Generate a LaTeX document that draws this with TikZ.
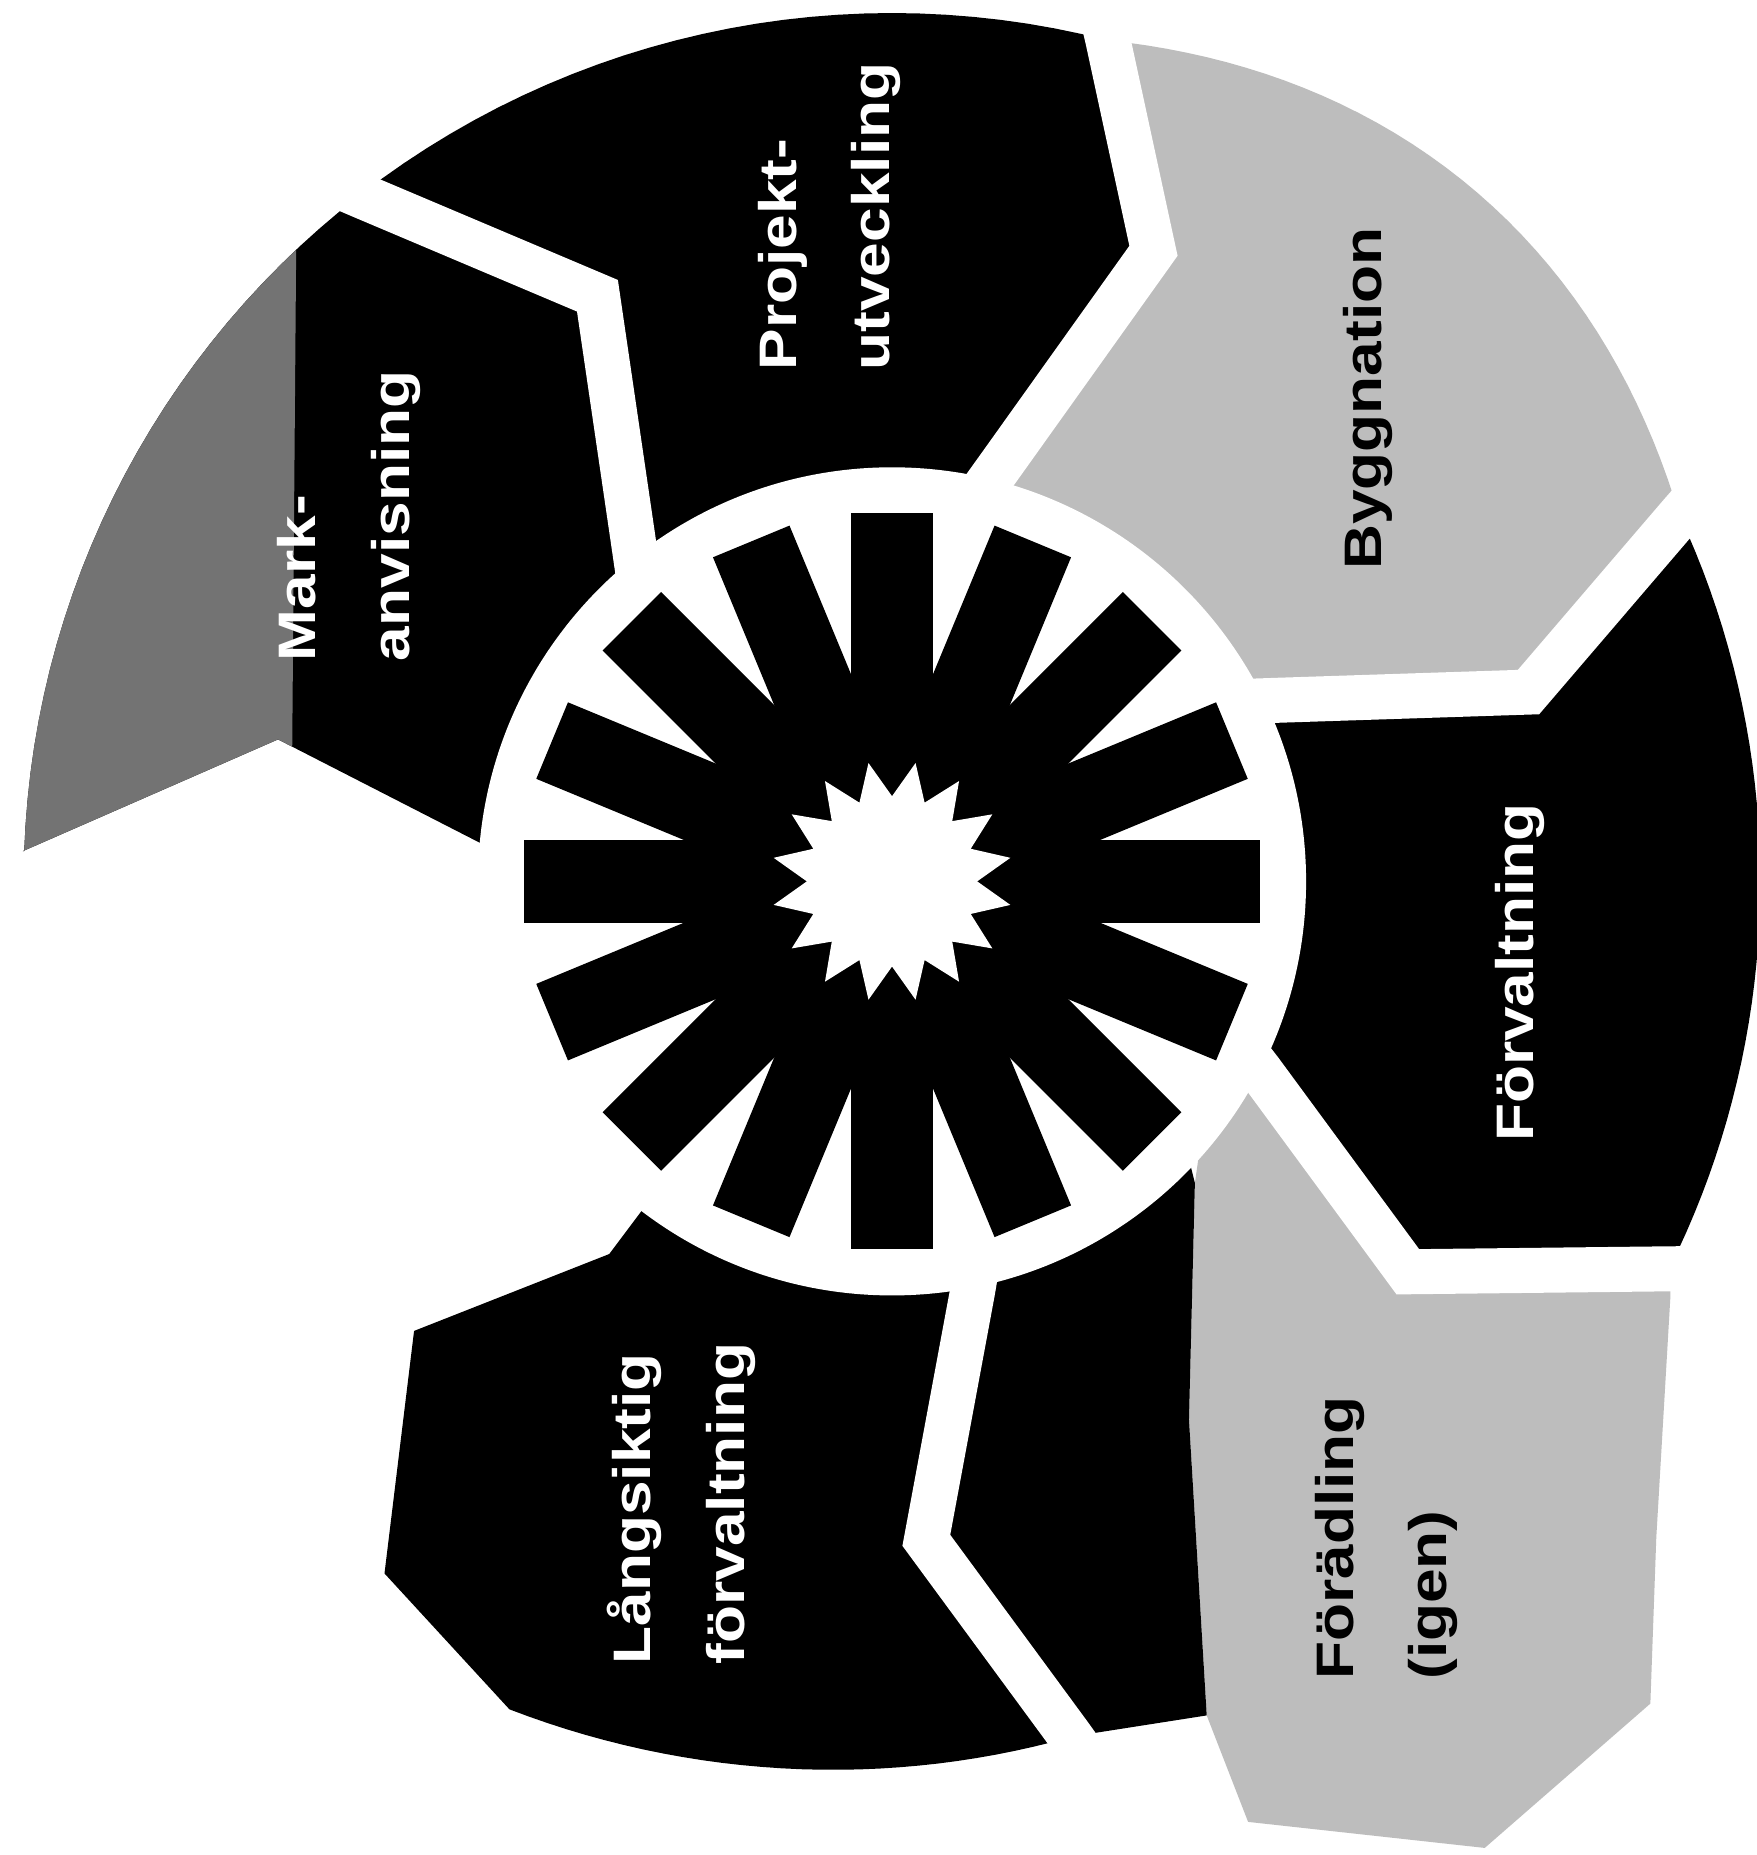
\documentclass[tikz,border=0pt]{standalone}
\usepackage{fontspec}
\setmainfont{Liberation Sans}
\newfontfamily\labfont{Liberation Sans}[FakeStretch=1.18]
\definecolor{gL}{gray}{0.74}
\definecolor{gD}{gray}{0.45}
\begin{document}
\begin{tikzpicture}[x=0.011832cm,y=-0.011832cm,
  sep/.style={white,line width=0.45cm,line join=miter,line cap=butt},
  labw/.style={rotate=90,align=left,inner sep=0pt,text=white,font=\labfont\bfseries\fontsize{15}{26.5}\selectfont},
  labb/.style={labw,text=black}]
\fill[white] (0,0) rectangle (1485,1568);
\useasboundingbox (0,0) rectangle (1485,1568);
% separator coordinates
\coordinate (b1x) at (253,143);   \coordinate (b1o) at (304.1,165.0);
\coordinate (b1t) at (505,250);   \coordinate (b1i) at (535,455);  \coordinate (b1j) at (544,517);
\coordinate (b2x) at (926.6,-9);  \coordinate (b2o) at (936.5,34.0);
\coordinate (b2t) at (975,212);   \coordinate (b2i) at (848,390);  \coordinate (b2j) at (800,457);
\coordinate (b3x) at (1459,391);  \coordinate (b3o) at (1419.7,436.0);
\coordinate (b3t) at (1292,585);  \coordinate (b3i) at (1078,592); \coordinate (b3j) at (1020,594);
\coordinate (b4x) at (1470,1072); \coordinate (b4o) at (1410.9,1072.5);
\coordinate (b4t) at (1190,1075); \coordinate (b4i) at (1065,905); \coordinate (b4j) at (1030,860);
\coordinate (b5j) at (830,1045);  \coordinate (b5i) at (822,1092);
\coordinate (b5t) at (783,1302);  \coordinate (b5o) at (905,1468); \coordinate (b5x) at (935,1510);
% Markanvisning
\fill[black] (19.4,719.4) -- plot[domain=178:127.8,samples=30] ({754+734*cos(\x)},{745-734*sin(\x)})
  -- (b1t) -- (b1i) -- (560,560) -- (440,730) -- (235,625) -- cycle;
\begin{scope}
\clip (0,0) -- (252,0) -- (246,760) -- (0,760) -- cycle;
\fill[gD] (19.4,719.4) -- plot[domain=178:127.8,samples=30] ({754+734*cos(\x)},{745-734*sin(\x)})
  -- (b1t) -- (b1i) -- (560,560) -- (440,730) -- (235,625) -- cycle;
\end{scope}
% Projektutveckling
\fill[black] plot[domain=127.8:75.6,samples=30] ({754+734*cos(\x)},{745-734*sin(\x)})
  -- (b2t) -- (b2i) -- (b2j) -- (b1j) -- (b1i) -- (b1t) -- cycle;
% Byggnation
\fill[gL] plot[domain=75.6:24.9,samples=40] ({754+(734+30*sin(180*(75.6-\x)/50.7))*cos(\x)},{745-(734+30*sin(180*(75.6-\x)/50.7))*sin(\x)})
  -- (b3t) -- (b3i) -- (b3j) -- (b2j) -- (b2i) -- (b2t) -- cycle;
% Forvaltning
\fill[black] plot[domain=24.9:-26.5,samples=40] ({754+734*cos(\x)},{745-734*sin(\x)})
  -- (b4t) -- (b4i) -- (b4j) -- (b3j) -- (b3i) -- (b3t) -- cycle;
% Foradling (gray, outer branch)
\fill[gL] (b4o) -- (b4t) -- (b4i) -- (b4j) -- (1010,1000) -- (1005,1200) -- (1020,1450)
  -- (1055,1540) -- (1255,1562) -- (1395,1440) -- (1400,1300) -- (1412,1095) -- cycle;
% black inner branch
\fill[black] (b5j) -- (1000,960) -- (1010,1000) -- (1005,1200) -- (1020,1450) -- (b5o) -- (b5t) -- (b5i) -- cycle;
% Langsiktig forvaltning
\fill[black] (b5j) -- (b5i) -- (b5t) -- (b5o)
  -- plot[domain=-78.2:-114.8,samples=30] ({754+(739+32*(-78.2-\x)/36.6)*cos(\x)},{745-(739+32*(-78.2-\x)/36.6)*sin(\x)})
  -- (325,1330) -- (350,1125) -- (515,1060) -- (560,1000) -- cycle;
% separators
\draw[sep] (b1x) -- (b1o) -- (b1t) -- (b1i) -- (b1j);
\draw[sep] (b2x) -- (b2o) -- (b2t) -- (b2i) -- (b2j);
\draw[sep] (b3x) -- (b3o) -- (b3t) -- (b3i) -- (b3j);
\draw[sep] (b4x) -- (b4o) -- (b4t) -- (b4i) -- (b4j);
\draw[sep] (b5j) -- (b5i) -- (b5t) -- (b5o) -- (b5x);
% white disk
\fill[white] (754,745) circle[radius=350];
% sun rays
\foreach \a in {0,22.5,...,337.5}
  \fill[black,rotate around={\a:(754,745)}] (814,710) rectangle (1065,780);
\fill[white] plot[domain=0:31,samples=32] ({754+(87-15*cos(180*\x))*cos(11.25*\x)},{745-(87-15*cos(180*\x))*sin(11.25*\x)}) -- cycle;
% labels
\node[labw] (mark) at (295,436) {Mark-\\anvisning};
\node[labw] (proj) at (701,183) {Projekt-\\utveckling};
\node[labb] (bygg) at (1156,337) {Byggnation};
\node[labw] (forv) at (1285,822) {Förvaltning};
\node[labb] (fora) at (1172,1300) {Förädling\\(igen)};
\node[labw] (lang) at (576,1271) {Långsiktig\\förvaltning};
\end{tikzpicture}
\end{document}
